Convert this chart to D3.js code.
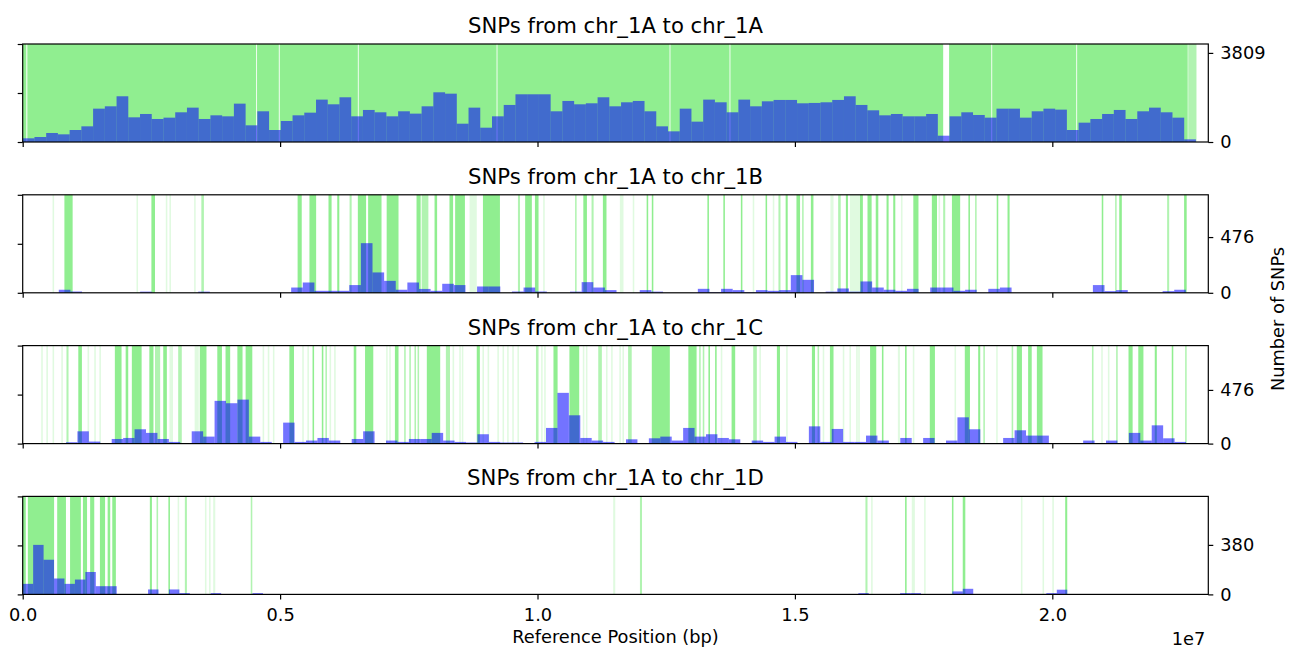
<!DOCTYPE html>
<html>
<head>
<meta charset="utf-8">
<script src="https://cdn.jsdelivr.net/npm/d3@7"></script>
<style>
  body { margin: 0; background: #fff; }
  svg { font-family: "DejaVu Sans", sans-serif; }
</style>
</head>
<body>
<svg id="chart" width="1292" height="650"></svg>
<script>
// panel titles
const panelTitles = [
  "SNPs from chr_1A to chr_1A",
  "SNPs from chr_1A to chr_1B",
  "SNPs from chr_1A to chr_1C",
  "SNPs from chr_1A to chr_1D"
];

// x ticks (Mb) and y tick labels
const xTicks = [0, 5, 10, 15, 20];
const yMaxTicks = [3809, 476, 476, 380];
const yLimits = [4190, 837, 869, 752];

// histogram bins: first edge and width in Mb, then counts per bin
const binStarts = [0, 0.701, 0.841, 0];
const binWidths = [0.2279, 0.2257, 0.2220, 0.2029];

const counts1 = [158,214,385,328,513,670,1426,1526,1955,1055,
  1198,984,1041,1270,1469,984,1141,1098,1640,713,
  1313,513,898,1141,1255,1812,1612,1912,1098,1370,
  1270,1098,1313,1213,1526,2125,2067,783,1469,612,
  1098,1584,2040,2040,2040,1313,1755,1612,1655,1912,
  1526,1698,1755,1313,670,456,1426,870,1812,1698,
  1270,1812,1526,1740,1798,1798,1655,1670,1698,1798,
  1955,1584,1355,1141,1198,1098,1098,1198,270,1098,
  1270,1155,1041,1426,1426,1041,1313,1426,1384,513,
  827,984,1198,1370,984,1313,1469,1270,1041,114];

const counts2 = [26,11,0,0,0,0,0,10,0,0,
  0,0,10,0,0,0,0,0,0,0,
  45,88,17,17,17,66,424,174,102,26,
  88,33,17,77,66,5,54,54,0,11,
  45,11,0,0,10,91,45,23,0,0,
  23,10,0,0,0,34,5,34,23,5,
  23,17,23,151,111,0,10,37,10,97,
  45,26,17,34,0,45,45,17,26,0,
  34,45,0,0,0,0,0,0,0,66,
  14,23,0,0,0,14,26];

const counts3 = [12,109,18,0,41,50,127,95,41,15,
  0,109,62,379,358,390,62,15,0,186,
  15,27,50,27,0,41,109,0,27,15,
  41,41,95,27,15,10,83,15,10,10,
  0,15,139,450,251,50,27,15,5,38,
  0,47,62,27,139,62,83,50,38,0,
  27,15,62,15,0,153,15,130,15,15,
  71,27,0,50,0,50,0,27,233,127,
  0,0,50,118,71,71,0,0,0,27,
  0,27,0,95,27,162,47,15];

const counts4 = [81,380,266,122,81,114,172,63,63,0,
  0,0,38,0,38,10,0,0,10,0,
  0,0,10,0,0,0,0,0,0,0,
  0,0,0,0,0,0,0,0,0,0,
  0,0,0,0,0,0,0,0,0,0,
  0,0,0,0,0,0,0,0,0,0,
  0,0,0,0,0,0,0,0,0,0,
  0,0,0,0,0,0,0,0,0,0,
  10,0,0,0,10,10,0,0,0,23,
  43,0,0,0,0,0,0,0,10,36];

// aligned regions: [start Mb, end Mb, strength 1 faint / 2 medium / 3 strong]
const spans1 = [[0,0.07,3],[0.09,4.535,3],[4.552,4.975,3],[4.992,6.51,3],[6.527,9.205,3],
  [9.222,12.565,3],[12.582,13.73,3],[13.747,17.88,3],[17.995,18.815,3],[18.832,20.465,3],
  [20.482,22.63,3],[22.64,22.8,2]];

const spans2 = [[0.58,0.61,1],[0.81,0.97,3],[2.21,2.24,1],[2.5,2.57,3],[2.78,2.81,1],
  [2.85,2.88,1],[3.33,3.36,1],[3.47,3.52,2],[5.34,5.42,3],[5.57,5.70,3],
  [5.94,6.0,3],[6.11,6.15,3],[6.35,6.39,2],[6.51,6.67,3],[6.71,6.97,3],
  [7.07,7.30,3],[7.65,7.73,3],[7.75,7.88,2],[8.0,8.05,3],[8.29,8.36,3],
  [8.40,8.59,3],[8.68,8.82,1],[8.94,9.27,3],[9.62,9.66,2],[9.76,9.89,3],
  [9.95,10.02,3],[10.11,10.14,1],[10.73,10.76,2],[10.89,10.96,3],[11.05,11.09,2],
  [11.27,11.34,3],[11.60,11.67,1],[11.85,11.88,1],[12.12,12.15,3],[12.22,12.25,3],
  [13.30,13.33,3],[13.61,13.64,3],[13.95,13.98,3],[14.18,14.21,1],[14.43,14.46,3],
  [14.57,14.60,1],[14.68,14.72,2],[14.82,14.86,3],[15.03,15.10,3],[15.14,15.17,2],
  [15.31,15.36,3],[15.69,15.75,1],[15.84,15.89,2],[15.99,16.03,3],[16.07,16.25,1],
  [16.26,16.32,3],[16.41,16.49,3],[16.57,16.62,3],[16.78,16.82,3],[16.91,16.95,3],
  [17.06,17.09,1],[17.30,17.40,3],[17.66,17.76,3],[17.79,17.82,1],[17.88,17.92,2],
  [18.05,18.21,3],[18.37,18.40,3],[18.50,18.53,2],[18.92,18.95,3],[19.13,19.17,3],
  [20.96,20.99,3],[21.22,21.25,2],[21.30,21.35,3],[22.23,22.27,2],[22.56,22.61,3]];

const spans3 = [[0.36,0.39,1],[0.46,0.49,1],[0.58,0.61,1],[0.75,0.78,1],[0.85,0.89,2],
  [1.08,1.15,3],[1.26,1.29,1],[1.39,1.42,1],[1.49,1.52,1],[1.79,1.92,3],
  [2.0,2.05,3],[2.12,2.31,3],[2.46,2.54,3],[2.57,2.67,2],[2.73,2.80,3],
  [2.85,2.92,1],[3.02,3.09,2],[3.34,3.42,1],[3.44,3.57,3],[3.78,3.87,3],
  [3.94,4.03,3],[4.17,4.27,3],[4.33,4.46,3],[4.66,4.69,1],[4.76,4.79,1],
  [4.86,4.89,1],[5.18,5.27,3],[5.43,5.46,1],[5.53,5.56,1],[5.63,5.66,3],
  [5.81,5.84,3],[5.88,5.91,2],[5.96,5.99,1],[6.05,6.08,1],[6.43,6.48,3],
  [6.65,6.81,3],[7.06,7.09,1],[7.12,7.15,1],[7.23,7.30,3],[7.41,7.44,2],
  [7.51,7.54,2],[7.61,7.64,2],[7.67,7.70,2],[7.85,8.11,3],[8.22,8.30,2],
  [8.35,8.38,1],[8.48,8.51,1],[8.53,8.56,1],[8.82,8.88,3],[8.93,8.96,1],
  [9.03,9.06,1],[9.22,9.25,1],[9.32,9.35,1],[9.41,9.44,1],[9.51,9.54,1],
  [9.61,9.64,1],[9.97,10.02,2],[10.07,10.10,1],[10.13,10.16,1],[10.31,10.39,3],
  [10.62,10.81,3],[10.88,10.91,1],[10.94,10.97,1],[11.18,11.25,2],[11.33,11.36,1],
  [11.43,11.46,1],[11.59,11.62,1],[11.65,11.68,1],[11.76,11.83,2],[12.22,12.57,3],
  [12.93,13.09,3],[13.14,13.17,2],[13.21,13.24,2],[13.32,13.35,3],[13.45,13.48,3],
  [13.56,13.59,1],[13.77,13.84,3],[14.19,14.26,2],[14.31,14.34,1],[14.65,14.71,3],
  [14.83,14.86,1],[15.33,15.39,3],[15.44,15.47,2],[15.54,15.57,1],[15.68,15.75,3],
  [15.93,15.96,1],[16.06,16.09,1],[16.19,16.22,1],[16.23,16.26,1],[16.46,16.58,3],
  [16.69,16.72,3],[17.0,17.04,1],[17.14,17.17,3],[17.29,17.32,1],[17.62,17.72,3],
  [18.10,18.13,1],[18.30,18.40,3],[18.56,18.60,3],[18.66,18.69,2],[18.91,18.94,1],
  [19.21,19.24,2],[19.31,19.41,3],[19.53,19.60,3],[19.70,19.81,3],[20.77,20.80,2],
  [20.95,20.98,1],[21.08,21.11,1],[21.24,21.27,2],[21.48,21.56,3],[21.67,21.77,3],
  [21.99,22.03,3],[22.32,22.35,3],[22.58,22.61,2]];

const spans4 = [[0,0.06,3],[0.1,0.61,3],[0.67,0.84,3],[0.92,1.13,3],[1.17,1.25,3],
  [1.31,1.39,3],[1.50,1.60,3],[1.65,1.70,3],[1.74,1.81,3],[2.47,2.51,3],
  [2.60,2.63,2],[2.83,2.86,3],[3.01,3.04,1],[3.15,3.19,2],[3.54,3.57,1],
  [3.62,3.65,1],[3.70,3.74,1],[4.43,4.46,2],[11.47,11.51,1],[11.99,12.03,2],
  [16.37,16.41,2],[16.48,16.51,1],[17.14,17.17,3],[17.27,17.33,1],[17.51,17.54,1],
  [18.05,18.08,3],[18.26,18.31,3],[19.39,19.42,1],[19.81,19.84,1],[20.0,20.03,1],
  [20.25,20.29,3]];

const allCounts = [counts1, counts2, counts3, counts4];
const allSpans = [spans1, spans2, spans3, spans4];

const svg = d3.select("#chart");
const left = 22.7, right = 1208.3;
const panelH = 98;
const panelTops = [44, 194.8, 345.6, 496.4];
const strengthAlpha = {1: 0.28, 2: 0.7, 3: 1};

const x = d3.scaleLinear().domain([0, 23.03]).range([left, right]);

allCounts.forEach((counts, i) => {
  const g = svg.append("g").attr("transform", `translate(0,${panelTops[i]})`);
  const y = d3.scaleLinear().domain([0, yLimits[i]]).range([panelH, 0]);
  const yFrac = d3.scaleLinear().domain([0, 1]).range([panelH, 0]);

  // green aligned regions
  g.append("g").selectAll("rect")
    .data(allSpans[i])
    .enter()
    .append("rect")
    .attr("x", d => x(d[0]))
    .attr("width", d => Math.max(x(d[1]) - x(d[0]), 1.2))
    .attr("y", 0)
    .attr("height", panelH)
    .attr("fill", "#90ee90")
    .attr("fill-opacity", d => strengthAlpha[d[2]]);

  // histogram bars
  const bins = counts.map((c, k) => ({
    x0: binStarts[i] + k * binWidths[i],
    x1: binStarts[i] + (k + 1) * binWidths[i],
    c: c
  })).filter(b => b.c > 0);

  g.append("g").selectAll("rect")
    .data(bins)
    .enter()
    .append("rect")
    .attr("x", d => x(d.x0))
    .attr("width", d => x(d.x1) - x(d.x0))
    .attr("y", d => y(d.c))
    .attr("height", d => panelH - y(d.c))
    .attr("fill", "#0000ff")
    .attr("fill-opacity", 0.55);

  // frame
  g.append("rect")
    .attr("x", left).attr("y", 0)
    .attr("width", right - left).attr("height", panelH)
    .attr("fill", "none").attr("stroke", "#000").attr("stroke-width", 1.2);

  const xAxis = d3.axisBottom(x).tickValues(xTicks).tickSize(5).tickPadding(9)
    .tickFormat(i === 3 ? (d => (d / 10).toFixed(1)) : "");
  g.append("g").attr("class", "axis")
    .attr("transform", `translate(0,${panelH})`)
    .call(xAxis);

  g.append("g").attr("class", "axis")
    .attr("transform", `translate(${right},0)`)
    .call(d3.axisRight(y).tickValues([0, yMaxTicks[i]]).tickSize(5).tickPadding(7)
      .tickFormat(d3.format("d")));

  g.append("g").attr("class", "axis")
    .attr("transform", `translate(${left},0)`)
    .call(d3.axisLeft(yFrac).tickValues([0, 0.5, 1]).tickSize(5).tickFormat(""));

  g.append("text")
    .attr("x", (left + right) / 2)
    .attr("y", -11)
    .attr("text-anchor", "middle")
    .style("font-size", "21.2px")
    .text(panelTitles[i]);
});

svg.selectAll(".axis .domain").remove();
svg.selectAll(".axis line").attr("stroke", "#000").attr("stroke-width", 1.2);
svg.selectAll(".axis text").style("font-size", "17.8px").style("font-family", "DejaVu Sans").attr("fill", "#000");

svg.append("text")
  .attr("x", (left + right) / 2).attr("y", 643)
  .attr("text-anchor", "middle")
  .style("font-size", "17.8px")
  .text("Reference Position (bp)");

svg.append("text")
  .attr("x", right - 3).attr("y", 645)
  .attr("text-anchor", "end")
  .style("font-size", "17.8px")
  .text("1e7");

svg.append("text")
  .attr("transform", "translate(1277,319) rotate(-90)")
  .attr("text-anchor", "middle")
  .attr("dominant-baseline", "central")
  .style("font-size", "17.8px")
  .text("Number of SNPs");
</script>
</body>
</html>
